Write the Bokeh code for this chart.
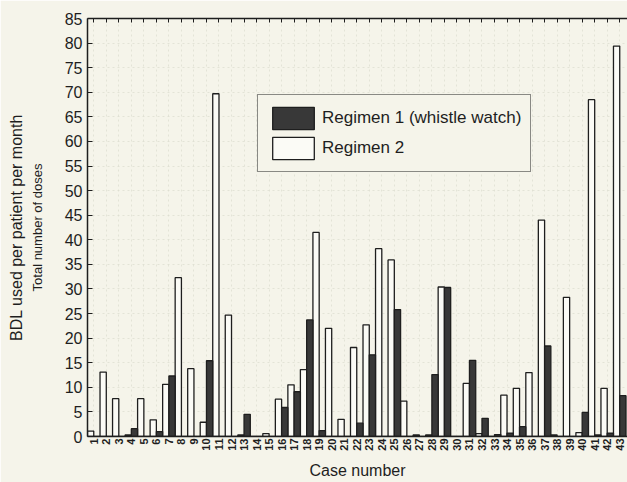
import numpy as np
from bokeh.plotting import figure
from bokeh.models import (Range1d, LinearAxis, FixedTicker, Legend, LegendItem,
                          ColumnDataSource)
from bokeh.transform import dodge
from bokeh.embed import file_html
from bokeh.resources import INLINE

# ---- data -------------------------------------------------------------
cases = list(range(1, 44))
# Regimen 1 (whistle watch) - dark bars
regimen1 = [0, 0, 0, 1.6, 0, 1.0, 12.3, 0, 0, 15.4,
            0, 0, 4.5, 0, 0, 5.9, 9.1, 23.7, 1.2, 0,
            0, 2.7, 16.6, 0, 25.8, 0, 0, 12.6, 30.3, 0,
            15.5, 3.7, 0.4, 0.7, 2.0, 0, 18.4, 0, 0, 4.9,
            0.3, 0.7, 8.3]
# Regimen 2 - white bars
regimen2 = [1.1, 13.1, 7.7, 0.3, 7.7, 3.4, 10.6, 32.3, 13.8, 2.9,
            69.7, 24.7, 0.3, 0, 0.6, 7.6, 10.5, 13.6, 41.5, 22.0,
            3.5, 18.1, 22.7, 38.2, 35.9, 7.2, 0.3, 0.3, 30.4, 0,
            10.8, 0.6, 0, 8.4, 9.8, 13.0, 44.0, 0.3, 28.3, 0.8,
            68.5, 9.8, 79.4]
y_ticks = list(range(0, 90, 5))

BG = "#f5f4ea"
INK = "#1e1e1e"
FONT = "Liberation Sans"

src = ColumnDataSource(dict(case=cases, r1=regimen1, r2=regimen2))

p = figure(width=627, height=482, output_backend="svg", toolbar_location=None,
           x_range=Range1d(0.5, 43.62), y_range=Range1d(0, 85),
           background_fill_color=BG, border_fill_color=BG,
           min_border_left=87, min_border_right=0, min_border_top=18,
           min_border_bottom=46)
p.outline_line_color = None

# faint background grid
p.xgrid.ticker = FixedTicker(ticks=cases)
p.ygrid.ticker = FixedTicker(ticks=y_ticks)
for g in (p.xgrid[0], p.ygrid[0]):
    g.grid_line_color = "#dcdbcf"
    g.grid_line_dash = "2 3"
    g.grid_line_alpha = 0.7

# bars
r2 = p.vbar(x=dodge("case", -0.25, range=p.x_range), top="r2", width=0.5,
            source=src, fill_color="#fbfbf6", line_color=INK, line_width=1.3)
r1 = p.vbar(x=dodge("case", 0.25, range=p.x_range), top="r1", width=0.5,
            source=src, fill_color="#383838", line_color=INK, line_width=1.3)

# bottom axis
xa = p.xaxis[0]
xa.ticker = FixedTicker(ticks=cases)
xa.major_label_orientation = np.pi / 2
xa.major_label_text_font = FONT
xa.major_label_text_font_size = "11px"
xa.major_label_text_font_style = "bold"
xa.major_label_text_color = INK
xa.major_label_standoff = 2
xa.major_tick_out = 0
xa.major_tick_in = 0
xa.minor_tick_line_color = None
xa.axis_line_color = INK
xa.axis_line_width = 1.5
xa.axis_label = "Case number"
xa.axis_label_text_font = FONT
xa.axis_label_text_font_size = "16px"
xa.axis_label_text_font_style = "normal"
xa.axis_label_text_color = INK
xa.axis_label_standoff = 8

# left axis with tick labels
ya = p.yaxis[0]
ya.ticker = FixedTicker(ticks=y_ticks)
ya.major_tick_in = 5
ya.major_tick_out = 0
ya.major_tick_line_color = INK
ya.minor_tick_line_color = None
ya.axis_line_color = INK
ya.axis_line_width = 1.5
ya.major_label_text_font = FONT
ya.major_label_text_font_size = "16px"
ya.major_label_text_color = INK
ya.major_label_standoff = 5

# secondary title axes on the left
def title_axis(text, size, standoff):
    return LinearAxis(ticker=FixedTicker(ticks=[]), axis_label=text,
                      axis_line_color=None, major_tick_line_color=None,
                      minor_tick_line_color=None, major_label_standoff=0,
                      axis_label_text_font=FONT, axis_label_text_font_size=size,
                      axis_label_text_font_style="normal",
                      axis_label_text_color=INK, axis_label_standoff=standoff)

p.add_layout(title_axis("Total number of doses", "13px", 17), "left")
p.add_layout(title_axis("BDL used per patient per month", "16px", 2), "left")

# top axis: frame line with inward ticks, labels not drawn
top = LinearAxis(ticker=FixedTicker(ticks=cases), major_label_text_font_size="1px",
                 major_label_text_color=None, major_label_standoff=0,
                 major_tick_in=4, major_tick_out=0,
                 major_tick_line_color=INK, minor_tick_line_color=None,
                 axis_line_color=INK, axis_line_width=1.5)
p.add_layout(top, "above")

legend = Legend(items=[LegendItem(label="Regimen 1 (whistle watch)", renderers=[r1]),
                       LegendItem(label="Regimen 2", renderers=[r2])],
                location=(170, 264), glyph_width=52, glyph_height=28,
                label_height=28, spacing=2, padding=9, margin=0,
                label_standoff=3, border_line_color=INK, border_line_width=1.2,
                background_fill_color=BG, background_fill_alpha=1,
                label_text_font=FONT, label_text_font_size="17px",
                label_text_color=INK)
p.add_layout(legend)

open("out.html", "w").write(file_html(p, INLINE))
